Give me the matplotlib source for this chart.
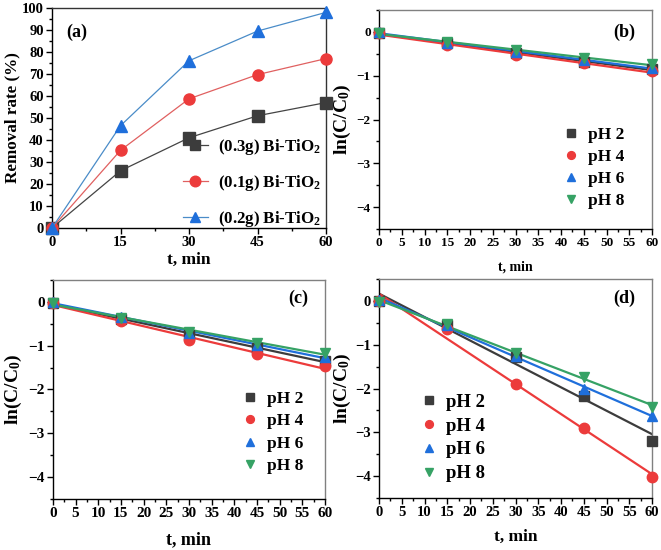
import matplotlib
matplotlib.use("Agg")
import matplotlib.pyplot as plt
import numpy as np
from matplotlib.ticker import MultipleLocator, AutoMinorLocator

plt.rcParams['font.family'] = ['Liberation Serif', 'DejaVu Serif']
plt.rcParams['font.weight'] = 'bold'
plt.rcParams['mathtext.fontset'] = 'custom'
plt.rcParams['mathtext.rm'] = 'Liberation Serif:bold'
plt.rcParams['mathtext.it'] = 'Liberation Serif:bold'
plt.rcParams['mathtext.bf'] = 'Liberation Serif:bold'

# tiempos de muestreo
t = [0, 15, 30, 45, 60]

# (a) porcentaje de remocion
rem_03 = [0, 26, 41, 51, 57]
rem_01 = [0, 35.3, 58.7, 69.7, 77]
rem_02 = [0, 46.5, 76, 89.5, 98]
labels_a = [r'(0.3g) Bi-TiO$_2$', r'(0.1g) Bi-TiO$_2$', r'(0.2g) Bi-TiO$_2$']

# ln(C/Co) para cada pH
ph_labels = ['pH 2', 'pH 4', 'pH 6', 'pH 8']
b_ph2 = [-0.03, -0.26, -0.48, -0.68, -0.85]
b_ph4 = [-0.02, -0.31, -0.53, -0.72, -0.90]
b_ph6 = [0.0, -0.25, -0.47, -0.63, -0.82]
b_ph8 = [-0.03, -0.23, -0.42, -0.60, -0.74]

c_ph2 = [-0.02, -0.40, -0.75, -1.05, -1.35]
c_ph4 = [-0.02, -0.44, -0.88, -1.19, -1.47]
c_ph6 = [0.0, -0.35, -0.70, -0.99, -1.25]
c_ph8 = [-0.02, -0.37, -0.68, -0.93, -1.17]

d_ph2 = [0.0, -0.55, -1.27, -2.17, -3.20]
d_ph4 = [0.0, -0.65, -1.90, -2.91, -4.02]
d_ph6 = [0.03, -0.55, -1.25, -2.00, -2.62]
d_ph8 = [-0.03, -0.52, -1.20, -1.73, -2.42]

negro = '#3c3c3c'
rojo = '#ec3b3b'
azul = '#1f6fdb'
verde = '#36a265'
colores = [negro, rojo, azul, verde]
marcadores = ['s', 'o', '^', 'v']

fig = plt.figure(figsize=(6.61, 5.5), dpi=100)

def estilo_ejes(ax, tick_size, top_color='#808080'):
    ax.tick_params(direction='out', which='both', labelsize=tick_size, width=1, pad=2)
    ax.tick_params(which='major', length=4)
    ax.tick_params(which='minor', length=2.5)
    for s in ['top', 'right']:
        ax.spines[s].set_color(top_color)
    for s in ['left', 'bottom']:
        ax.spines[s].set_color('black')
    for s in ax.spines.values():
        s.set_linewidth(1.0)

# ---- panel (a)
ax = fig.add_axes([0.0787, 0.5855, 0.4145, 0.4])
for y, c, m, lab, lc in zip([rem_03, rem_01, rem_02], [negro, rojo, azul], ['s', 'o', '^'], labels_a,
                             ['#444444', '#e06060', '#4a8cc8']):
    ax.plot(t, y, color=lc, lw=0.9, marker=m, ms=8, mfc=c, mec=c, label=lab, clip_on=False, zorder=3)
ax.set_xlim(0, 60)
ax.set_ylim(0, 100)
ax.xaxis.set_major_locator(MultipleLocator(15))
ax.xaxis.set_minor_locator(AutoMinorLocator(2))
ax.yaxis.set_major_locator(MultipleLocator(10))
ax.yaxis.set_minor_locator(AutoMinorLocator(2))
estilo_ejes(ax, 10.5, top_color='#333333')
ax.set_ylabel('Removal rate (%)', fontsize=12.3, fontweight='bold', va='center')
ax.yaxis.set_label_coords(-0.146, 0.5)
ax.set_xlabel('t, min', fontsize=12.5, fontweight='bold', va='center')
ax.xaxis.set_label_coords(0.5, -0.145)
ax.text(0.091, 0.89, '(a)', transform=ax.transAxes, fontsize=13, fontweight='bold', ha='center', va='center')
ax.legend(loc='center left', bbox_to_anchor=(0.478, 0.2045), frameon=False, fontsize=12.2,
          borderaxespad=0, borderpad=0, handlelength=1.45, handletextpad=0.6, labelspacing=0.95,
          markerscale=0.95)

def panel_ph(rect, series, letra, tick_size, xl_size, yl_coords, xl_coords, leg_anchor, leg_size, let_pos):
    ax = fig.add_axes(rect)
    tt = np.array(t, dtype=float)
    for y, c, m, lab in zip(series, colores, marcadores, ph_labels):
        k, b0 = np.polyfit(tt, y, 1)
        ax.plot([0, 60], [b0, b0 + 60 * k], color=c, lw=1.6, zorder=2)
        ax.plot(t, y, ls='none', marker=m, ms=7.5, mfc=c, mec=c, label=lab, clip_on=False, zorder=3)
    ax.set_xlim(0, 60)
    ax.set_ylim(-4.5, 0.5)
    ax.xaxis.set_major_locator(MultipleLocator(5))
    ax.xaxis.set_minor_locator(AutoMinorLocator(2))
    ax.yaxis.set_major_locator(MultipleLocator(1))
    ax.yaxis.set_minor_locator(AutoMinorLocator(2))
    estilo_ejes(ax, tick_size)
    ax.set_ylabel(r'ln(C/C$_{0}$)', fontsize=14, fontweight='bold', va='center')
    ax.yaxis.set_label_coords(yl_coords, 0.5)
    ax.set_xlabel('t, min', fontsize=xl_size, fontweight='bold', va='center')
    ax.xaxis.set_label_coords(0.5, xl_coords)
    ax.text(let_pos[0], let_pos[1], letra, transform=ax.transAxes, fontsize=13, fontweight='bold',
            ha='center', va='center')
    ax.legend(loc='center left', bbox_to_anchor=leg_anchor, frameon=False, fontsize=leg_size,
              borderaxespad=0, borderpad=0, handlelength=0.8, handletextpad=0.55, labelspacing=0.35,
              markerscale=0.75)
    return ax

panel_ph([0.5734, 0.5836, 0.413, 0.3982], [b_ph2, b_ph4, b_ph6, b_ph8], '(b)', 9.5, 10,
         -0.135, -0.174, (0.679, 0.279), 12.5, (0.90, 0.90))
panel_ph([0.080, 0.0927, 0.4117, 0.3983], [c_ph2, c_ph4, c_ph6, c_ph8], '(c)', 11, 13,
         -0.145, -0.187, (0.70, 0.304), 12.5, (0.90, 0.918))
panel_ph([0.5734, 0.0945, 0.413, 0.3982], [d_ph2, d_ph4, d_ph6, d_ph8], '(d)', 10.5, 12.5,
         -0.135, -0.178, (0.154, 0.274), 13.5, (0.90, 0.913))

plt.savefig('out.png', dpi=100)
